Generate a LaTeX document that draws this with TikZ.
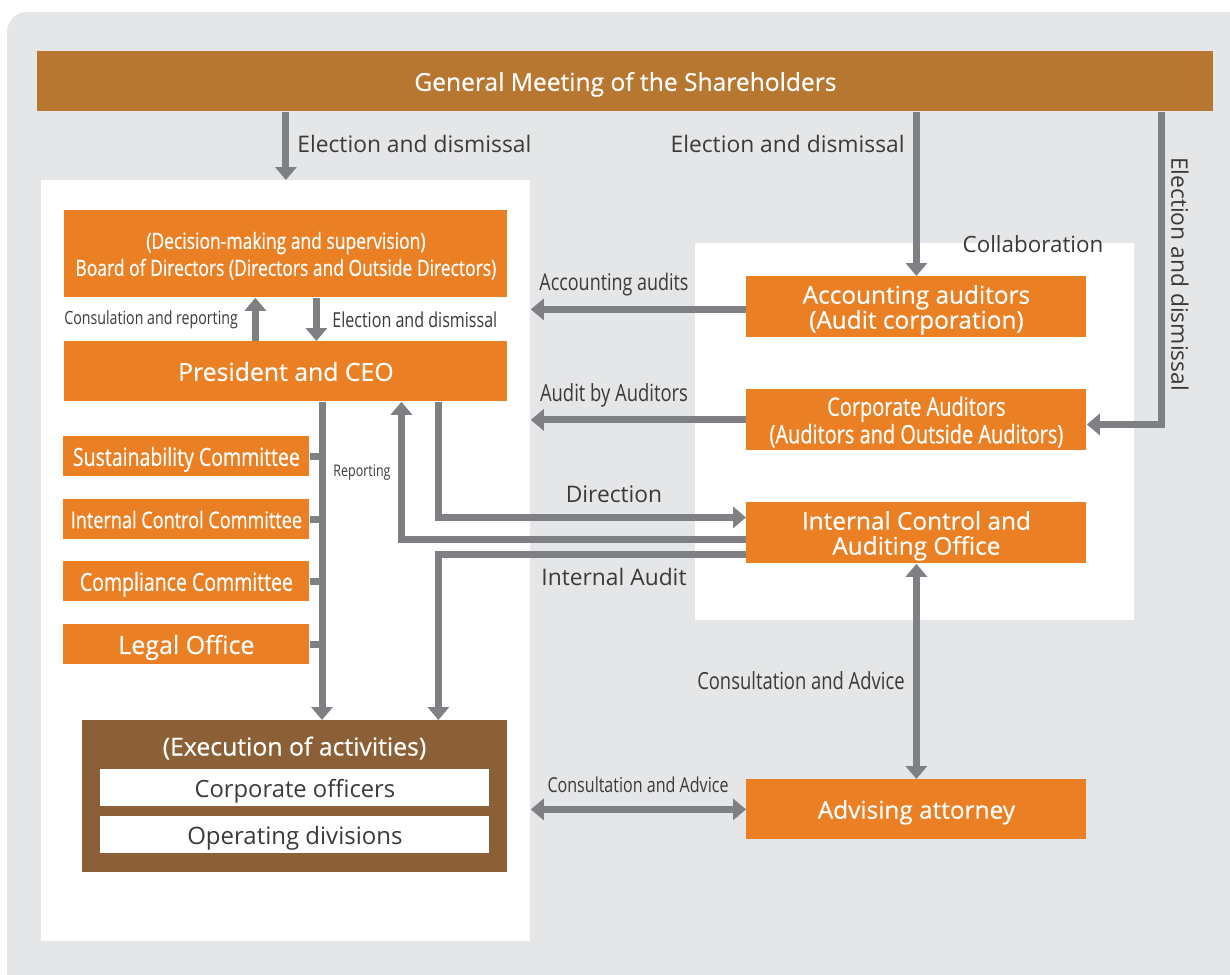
\documentclass[tikz,border=0pt]{standalone}
\usepackage{fontspec}
\setmainfont{Open Sans}
\newfontfamily\narrowfont[FakeStretch=0.78]{Open Sans}
\newfontfamily\boxfont[FakeBold=0.5]{Open Sans}
\newfontfamily\narrowboxfont[FakeStretch=0.78, FakeBold=0.5]{Open Sans}
\usetikzlibrary{arrows.meta}

\definecolor{bggray}{HTML}{E5E6E8}
\definecolor{gmbrown}{HTML}{B87731}
\definecolor{boxorange}{HTML}{EA7F24}
\definecolor{execbrown}{HTML}{8B6036}
\definecolor{linkgray}{HTML}{7F8084}
\definecolor{labelgray}{HTML}{3A3A3A}

\begin{document}
\begin{tikzpicture}[x=0.5pt, y=-0.5pt,
    >={Triangle[width=10.5pt, length=6.5pt]},
    box/.style={fill=boxorange, text=white, inner sep=0pt, anchor=north west, align=center,
        text depth=0pt, minimum width=170pt, minimum height=30.5pt},
    panel/.style={fill=white, inner sep=0pt, anchor=north west},
    link/.style={draw=linkgray, line width=3.5pt},
    lbl/.style={text=labelgray, inner sep=0pt, font=\fontsize{11.4}{13}\selectfont},
    nlbl/.style={text=labelgray, inner sep=0pt}]
    \useasboundingbox (0,0) rectangle (1230,974);

    % Background and panels
    \fill[bggray, rounded corners=10pt] (7,12) rectangle (1260,1000);
    \node[panel, minimum width=244.5pt, minimum height=380.5pt] (lpan) at (41,180) {};
    \node[panel, minimum width=219.5pt, minimum height=188.5pt] (rpan) at (695,243) {};

    % Nodes for the company bodies
    \node[box, fill=gmbrown, minimum width=588pt, minimum height=30pt,
        font=\boxfont\fontsize{12.3}{14}\selectfont] (gm) at (37,51) {General Meeting of the Shareholders};
    \node[box, minimum width=221.5pt, minimum height=43.5pt,
        font=\narrowboxfont\fontsize{11.2}{13.5}\selectfont] (board) at (64,210)
        {(Decision-making and supervision)\\Board of Directors (Directors and Outside Directors)};
    \node[box, minimum width=221.5pt, minimum height=30pt,
        font=\boxfont\fontsize{12.4}{14}\selectfont] (ceo) at (64,341) {President and CEO};

    % Committees
    \node[box, minimum width=123pt, minimum height=20pt,
        font=\narrowboxfont\fontsize{12.5}{14}\selectfont] (sust) at (63,436) {Sustainability Committee};
    \node[box, minimum width=123pt, minimum height=20pt,
        font=\narrowboxfont\fontsize{11.6}{14}\selectfont] (icc) at (63,499) {Internal Control Committee};
    \node[box, minimum width=123pt, minimum height=20pt,
        font=\narrowboxfont\fontsize{12.5}{14}\selectfont] (comp) at (63,561) {Compliance Committee};
    \node[box, minimum width=123pt, minimum height=20pt,
        font=\boxfont\fontsize{12.5}{14}\selectfont] (legal) at (63,624) {Legal Office};

    % Execution of activities
    \node[box, fill=execbrown, minimum width=212.5pt, minimum height=76pt] (exec) at (82,720) {};
    \node[text=white, inner sep=0pt, font=\boxfont\fontsize{12.4}{14}\selectfont] (exect) at (294.5,748)
        {(Execution of activities)};
    \node[box, fill=white, text=labelgray, minimum width=194.5pt, minimum height=18.5pt,
        font=\fontsize{11.9}{14}\selectfont] (officers) at (100,769) {Corporate officers};
    \node[box, fill=white, text=labelgray, minimum width=194.5pt, minimum height=18.5pt,
        font=\fontsize{12}{14}\selectfont] (divisions) at (100,816) {Operating divisions};

    % Auditors and offices on the right
    \node[box, font=\boxfont\fontsize{12.2}{12.5}\selectfont] (acc) at (746,276)
        {Accounting auditors\\(Audit corporation)};
    \node[box, font=\narrowboxfont\fontsize{12.8}{12.5}\selectfont] (corp) at (746,389)
        {Corporate Auditors\\(Auditors and Outside Auditors)};
    \node[box, font=\boxfont\fontsize{12.2}{12.5}\selectfont] (ico) at (746,502)
        {Internal Control and\\Auditing Office};
    \node[box, minimum height=30pt, font=\boxfont\fontsize{12.2}{14}\selectfont] (atty) at (746,779)
        {Advising attorney};

    \coordinate (trunk) at (322,401);

    % Election and dismissal from the general meeting
    \draw[link, ->] (gm.south -| lpan.north) -- (lpan.north);
    \draw[link, ->] (gm.south -| acc.north) -- (acc.north);
    \draw[link, ->] (gm.south -| 1161,0) |- ([yshift=-2.25pt]corp.east);

    % Board and President
    \draw[link, ->] ([xshift=-15.25pt]ceo.north) -- ([xshift=-15.25pt]board.south);
    \draw[link, ->] ([xshift=15.25pt]board.south) -- ([xshift=15.25pt]ceo.north);

    % Audits
    \draw[link, ->] ([yshift=-1.25pt]acc.west) -- ([yshift=-1.25pt]acc.west -| lpan.east);
    \draw[link, ->] (corp.west) -- (corp.west -| lpan.east);

    % Direction, reporting and internal audit
    \draw[link, ->] ([xshift=76.25pt]ceo.south) |- ([yshift=7.75pt]ico.west);
    \draw[link, ->] ([yshift=-3.25pt]ico.west) -| ([xshift=57.75pt]ceo.south);
    \draw[link, ->] ([yshift=-10.75pt]ico.west) -| ([xshift=71.75pt]exec.north);

    % Trunk from President to execution
    \draw[link, ->] (ceo.south -| trunk) -- (exec.north -| trunk);
    \foreach \c in {sust, icc, comp, legal}
        \draw[link] (\c.east) -- (\c.east -| trunk);

    % Consultation with the attorney
    \draw[link, <->] (ico.south) -- (atty.north);
    \draw[link, <->] (atty.west) -- (atty.west -| lpan.east);

    % Labels
    \node[lbl, anchor=west] (l1) at (297,144) {Election and dismissal};
    \node[lbl, anchor=east] (l2) at (905,144) {Election and dismissal};
    \node[lbl, rotate=-90] (l3) at (1180,274) {Election and dismissal};
    \node[lbl, font=\fontsize{11.2}{13}\selectfont] (collab) at (1033,244) {Collaboration};
    \node[nlbl, anchor=west, font=\narrowfont\fontsize{9.1}{11}\selectfont] (l4) at (64,320)
        {Consulation and reporting};
    \node[nlbl, anchor=west, font=\narrowfont\fontsize{10.3}{12}\selectfont] (l5) at (332,320)
        {Election and dismissal};
    \node[nlbl, font=\narrowfont\fontsize{11.5}{13}\selectfont] (l6) at (614,285) {Accounting audits};
    \node[nlbl, font=\narrowfont\fontsize{11.8}{13}\selectfont] (l7) at (614,395) {Audit by Auditors};
    \node[lbl] (l8) at (614,494) {Direction};
    \node[nlbl, font=\narrowfont\fontsize{8}{10}\selectfont] (l9) at (362,473) {Reporting};
    \node[lbl] (l10) at (614,577) {Internal Audit};
    \node[nlbl, anchor=east, font=\narrowfont\fontsize{11.8}{13}\selectfont] (l11) at (905,681)
        {Consultation and Advice};
    \node[nlbl, font=\narrowfont\fontsize{10.3}{12}\selectfont] (l12) at (638,785)
        {Consultation and Advice};
\end{tikzpicture}
\end{document}
